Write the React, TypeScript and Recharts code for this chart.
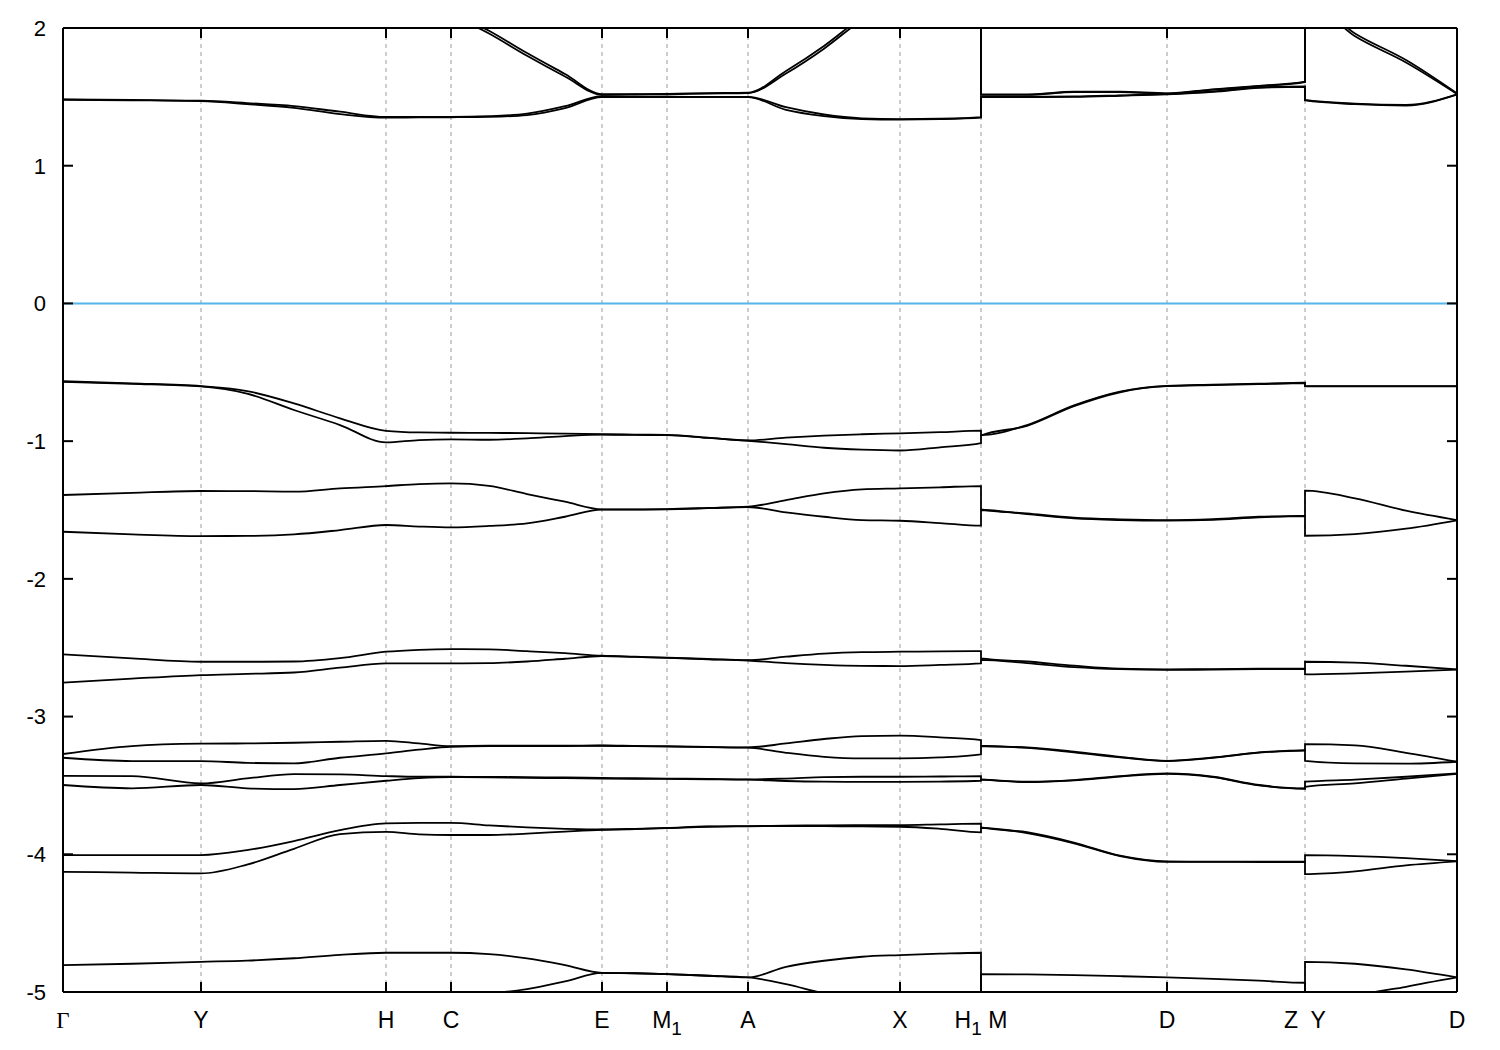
import React from 'react';
import { LineChart, Line, XAxis, YAxis, ReferenceLine } from 'recharts';

// k-path coordinate of each sample; H1|M and Z|Y appear twice (path jumps there)
const K_GRID = [
  0, 0.69, 1.38, 1.84, 2.31, 2.77, 3.23, 3.56, 3.88, 4.26, 4.64, 5.02, 5.39, 5.72, 6.04, 6.45, 6.85,
  7.23, 7.61, 7.99, 8.37, 8.77, 9.18, 9.18, 9.64, 10.11, 10.57, 11.04, 11.5, 11.96, 12.42, 12.42,
  12.92, 13.43, 13.94,
];
const K_MAX = 13.94;

const K_TICKS = [0, 1.38, 3.23, 3.88, 5.39, 6.04, 6.85, 8.37, 9.18, 11.04, 12.42, 13.94];
const K_LABELS = ['Γ', 'Y', 'H', 'C', 'E', 'M_1', 'A', 'X', 'H_1 M', 'D', 'Z  Y', 'D'];
const E_TICKS = [-5, -4, -3, -2, -1, 0, 1, 2];

// conduction bands (eV)
const cbHighA = [2.6, 2.6, 2.55, 2.5, 2.45, 2.4, 2.35, 2.25, 2.12, 1.98, 1.818, 1.666, 1.52, 1.52, 1.522, 1.527, 1.53, 1.688, 1.87, 2.08, 2.25, 2.4, 2.5, 1.518, 1.518, 1.537, 1.537, 1.526, 1.555, 1.58, 1.61, 2.22, 1.96, 1.767, 1.525];
const cbHighB = [2.58, 2.58, 2.53, 2.48, 2.43, 2.38, 2.33, 2.23, 2.1, 1.96, 1.798, 1.648, 1.515, 1.517, 1.519, 1.524, 1.527, 1.67, 1.85, 2.06, 2.23, 2.38, 2.48, 1.515, 1.515, 1.534, 1.534, 1.523, 1.552, 1.577, 1.607, 2.2, 1.94, 1.75, 1.521];
const cbLowA = [1.482, 1.478, 1.472, 1.455, 1.433, 1.392, 1.354, 1.355, 1.355, 1.36, 1.378, 1.432, 1.505, 1.502, 1.501, 1.5, 1.5, 1.425, 1.372, 1.344, 1.338, 1.341, 1.353, 1.502, 1.502, 1.503, 1.511, 1.521, 1.54, 1.569, 1.576, 1.478, 1.451, 1.441, 1.519];
const cbLowB = [1.479, 1.475, 1.469, 1.448, 1.42, 1.375, 1.349, 1.351, 1.352, 1.355, 1.368, 1.418, 1.498, 1.498, 1.498, 1.498, 1.498, 1.405, 1.36, 1.339, 1.335, 1.338, 1.349, 1.498, 1.498, 1.5, 1.508, 1.518, 1.536, 1.566, 1.573, 1.474, 1.447, 1.437, 1.516];

// valence bands (eV)
const vb1Upper = [-0.565, -0.58, -0.6, -0.636, -0.726, -0.834, -0.925, -0.937, -0.939, -0.94, -0.942, -0.945, -0.95, -0.953, -0.955, -0.975, -0.995, -0.975, -0.96, -0.95, -0.943, -0.935, -0.924, -0.955, -0.883, -0.74, -0.64, -0.598, -0.59, -0.583, -0.576, -0.6, -0.6, -0.6, -0.6];
const vb1Lower = [-0.57, -0.584, -0.603, -0.655, -0.774, -0.883, -1.009, -0.992, -0.987, -0.99, -0.98, -0.963, -0.952, -0.955, -0.957, -0.977, -0.997, -1.021, -1.048, -1.062, -1.068, -1.045, -1.015, -0.96, -0.889, -0.746, -0.645, -0.601, -0.593, -0.586, -0.579, -0.603, -0.603, -0.603, -0.603];
const vb2Upper = [-1.391, -1.375, -1.362, -1.363, -1.367, -1.343, -1.326, -1.312, -1.307, -1.325, -1.384, -1.44, -1.495, -1.495, -1.493, -1.485, -1.476, -1.428, -1.379, -1.35, -1.343, -1.335, -1.326, -1.495, -1.525, -1.556, -1.568, -1.573, -1.566, -1.549, -1.541, -1.36, -1.415, -1.505, -1.573];
const vb2Lower = [-1.658, -1.677, -1.689, -1.688, -1.677, -1.646, -1.609, -1.62, -1.626, -1.616, -1.597, -1.549, -1.497, -1.497, -1.495, -1.487, -1.479, -1.517, -1.549, -1.573, -1.578, -1.595, -1.614, -1.5, -1.53, -1.561, -1.573, -1.577, -1.571, -1.553, -1.545, -1.687, -1.675, -1.636, -1.575];
const vb3Upper = [-2.548, -2.578, -2.602, -2.602, -2.6, -2.575, -2.529, -2.515, -2.51, -2.512, -2.525, -2.54, -2.558, -2.565, -2.572, -2.582, -2.59, -2.565, -2.543, -2.532, -2.529, -2.527, -2.525, -2.578, -2.6, -2.63, -2.652, -2.657, -2.655, -2.652, -2.65, -2.602, -2.609, -2.631, -2.657];
const vb3Lower = [-2.754, -2.725, -2.699, -2.69, -2.68, -2.645, -2.614, -2.614, -2.614, -2.612, -2.6, -2.58, -2.56, -2.567, -2.574, -2.584, -2.593, -2.612, -2.625, -2.632, -2.633, -2.625, -2.614, -2.588, -2.612, -2.641, -2.656, -2.661, -2.659, -2.656, -2.654, -2.693, -2.686, -2.674, -2.659];
const vb4A = [-3.272, -3.214, -3.197, -3.195, -3.19, -3.183, -3.176, -3.195, -3.215, -3.212, -3.212, -3.212, -3.21, -3.213, -3.215, -3.22, -3.224, -3.195, -3.163, -3.142, -3.139, -3.151, -3.171, -3.212, -3.224, -3.255, -3.292, -3.321, -3.297, -3.26, -3.243, -3.2, -3.209, -3.263, -3.328];
const vb4B = [-3.299, -3.323, -3.323, -3.336, -3.34, -3.299, -3.268, -3.24, -3.219, -3.215, -3.215, -3.214, -3.212, -3.215, -3.218, -3.222, -3.226, -3.263, -3.292, -3.304, -3.304, -3.297, -3.275, -3.214, -3.228, -3.26, -3.296, -3.323, -3.3, -3.262, -3.245, -3.321, -3.34, -3.342, -3.328];
const vb4C = [-3.43, -3.432, -3.485, -3.449, -3.418, -3.42, -3.432, -3.437, -3.437, -3.438, -3.44, -3.442, -3.445, -3.448, -3.45, -3.453, -3.456, -3.45, -3.44, -3.437, -3.437, -3.435, -3.432, -3.456, -3.473, -3.461, -3.432, -3.413, -3.437, -3.497, -3.521, -3.473, -3.458, -3.437, -3.413];
const vb4D = [-3.497, -3.521, -3.497, -3.521, -3.527, -3.497, -3.466, -3.447, -3.44, -3.442, -3.445, -3.447, -3.45, -3.452, -3.453, -3.455, -3.458, -3.468, -3.473, -3.474, -3.474, -3.472, -3.466, -3.458, -3.476, -3.463, -3.436, -3.416, -3.44, -3.5, -3.524, -3.51, -3.485, -3.45, -3.416];
const vb5Upper = [-4.006, -4.006, -4.006, -3.97, -3.904, -3.824, -3.776, -3.772, -3.772, -3.79, -3.805, -3.815, -3.82, -3.815, -3.808, -3.798, -3.795, -3.792, -3.79, -3.788, -3.788, -3.783, -3.778, -3.805, -3.84, -3.915, -4.01, -4.052, -4.053, -4.054, -4.054, -4.006, -4.013, -4.028, -4.05];
const vb5Lower = [-4.127, -4.133, -4.139, -4.075, -3.96, -3.853, -3.837, -3.855, -3.86, -3.86, -3.85, -3.835, -3.822, -3.817, -3.81, -3.8, -3.797, -3.795, -3.795, -3.798, -3.8, -3.815, -3.841, -3.808, -3.846, -3.92, -4.013, -4.055, -4.055, -4.056, -4.056, -4.144, -4.124, -4.081, -4.052];
const vb6Upper = [-4.805, -4.795, -4.781, -4.772, -4.755, -4.73, -4.715, -4.715, -4.715, -4.725, -4.756, -4.805, -4.861, -4.864, -4.87, -4.882, -4.894, -4.817, -4.773, -4.744, -4.732, -4.722, -4.715, -5.3, -5.3, -5.3, -5.3, -5.3, -5.3, -5.3, -5.3, -5.4, -5.04, -4.962, -4.894];
const vb6Lower = [-5.3, -5.3, -5.35, -5.3, -5.2, -5.1, -5.06, -5.03, -5.0, -5.005, -4.979, -4.923, -4.861, -4.864, -4.87, -4.882, -4.894, -4.943, -5.01, -5.06, -5.08, -5.07, -5.05, -4.87, -4.872, -4.878, -4.885, -4.894, -4.905, -4.918, -4.933, -4.781, -4.795, -4.836, -4.894];

const BANDS = [
  cbHighA, cbHighB, cbLowA, cbLowB,
  vb1Upper, vb1Lower, vb2Upper, vb2Lower, vb3Upper, vb3Lower,
  vb4A, vb4B, vb4C, vb4D, vb5Upper, vb5Lower, vb6Upper, vb6Lower,
];

const rows = K_GRID.map((k, i) => {
  const r: Record<string, number> = { k };
  BANDS.forEach((b, j) => {
    r['b' + j] = b[i];
  });
  return r;
});

const FONT = '"Liberation Sans", Arial, sans-serif';
const TICK_DK = 0.1; // inward tick length along k
const TICK_DE = 0.073; // inward tick length along E
const E_MIN = -5;
const E_MAX = 2;

function KTick(props: any) {
  const { x, y, payload } = props;
  const idx = K_TICKS.findIndex((t) => Math.abs(t - payload.value) < 1e-6);
  const label = idx >= 0 ? K_LABELS[idx] : '';
  const m = label.match(/^(.*?)_(\d)(.*)$/);
  return (
    <text x={x} y={y} dy="0.72em" textAnchor="middle" fontSize={23} fill="#000"
      fontFamily={label === 'Γ' ? '"Liberation Serif", serif' : FONT} style={{ whiteSpace: 'pre' }}>
      {m ? (
        <>
          <tspan>{m[1]}</tspan>
          <tspan dy={7} fontSize={19}>{m[2]}</tspan>
          {m[3] ? <tspan dy={-7}>{m[3]}</tspan> : null}
        </>
      ) : (
        label
      )}
    </text>
  );
}

const inner = K_TICKS.slice(1, -1);

export default function App() {
  return (
    <div style={{ position: 'absolute', left: 0, top: 0, width: 1500, height: 1050, background: '#fff' }}>
      <LineChart width={1500} height={1050} data={rows} margin={{ top: 28, right: 43, bottom: 0, left: 0 }}>
        <XAxis
          type="number"
          dataKey="k"
          domain={[0, K_MAX]}
          ticks={K_TICKS}
          interval={0}
          allowDataOverflow
          height={58}
          tickLine={false}
          tickSize={0}
          tickMargin={19}
          axisLine={{ stroke: '#000', strokeWidth: 2 }}
          tick={<KTick />}
        />
        <YAxis
          type="number"
          domain={[E_MIN, E_MAX]}
          ticks={E_TICKS}
          interval={0}
          allowDataOverflow
          width={63}
          tickLine={false}
          tickSize={0}
          tickMargin={17}
          axisLine={{ stroke: '#000', strokeWidth: 2 }}
          tick={{ fontSize: 22, fill: '#000', fontFamily: FONT }}
        />
        {inner.map((k) => (
          <ReferenceLine key={'g' + k} x={k} stroke="#9a9a9a" strokeWidth={1} strokeDasharray="4 4" />
        ))}
        <ReferenceLine y={0} stroke="#56b4e9" strokeWidth={2} />
        {BANDS.map((_, j) => (
          <Line
            key={'b' + j}
            dataKey={'b' + j}
            type="monotone"
            stroke="#000"
            strokeWidth={1.8}
            dot={false}
            activeDot={false}
            isAnimationActive={false}
          />
        ))}
        <ReferenceLine y={E_MAX} stroke="#000" strokeWidth={2} />
        <ReferenceLine x={K_MAX} stroke="#000" strokeWidth={2} />
        {inner.map((k) => (
          <ReferenceLine key={'tb' + k} segment={[{ x: k, y: E_MIN }, { x: k, y: E_MIN + TICK_DE }]} stroke="#000" strokeWidth={2} />
        ))}
        {inner.map((k) => (
          <ReferenceLine key={'tt' + k} segment={[{ x: k, y: E_MAX }, { x: k, y: E_MAX - TICK_DE }]} stroke="#000" strokeWidth={2} />
        ))}
        {E_TICKS.slice(1, -1).map((e) => (
          <ReferenceLine key={'tl' + e} segment={[{ x: 0, y: e }, { x: TICK_DK, y: e }]} stroke="#000" strokeWidth={2} />
        ))}
        {E_TICKS.slice(1, -1).map((e) => (
          <ReferenceLine key={'tr' + e} segment={[{ x: K_MAX - TICK_DK, y: e }, { x: K_MAX, y: e }]} stroke="#000" strokeWidth={2} />
        ))}
      </LineChart>
    </div>
  );
}
